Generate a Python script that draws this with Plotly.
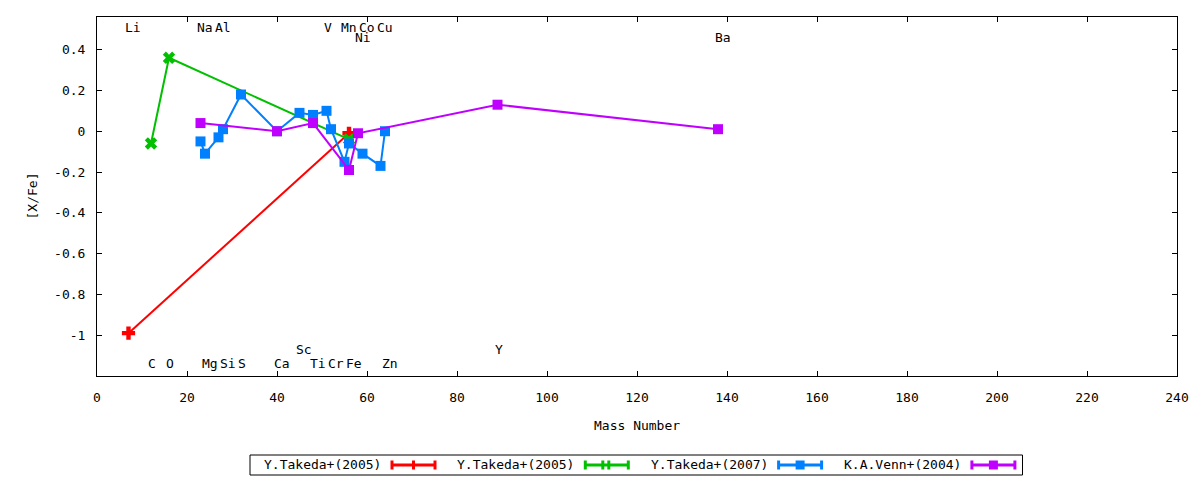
import plotly.graph_objects as go

W, H = 1200, 480
ML, MR, MT, MB = 97, 23, 17, 104
FONT = "DejaVu Sans Mono"

# ---- data: mass number of each element and its [X/Fe] ----
takeda05a_elem = ["Li", "Fe"]
takeda05a_mass = [7, 56]
takeda05a_xfe = [-0.99, -0.01]

takeda05b_elem = ["C", "O", "Fe"]
takeda05b_mass = [12, 16, 56]
takeda05b_xfe = [-0.06, 0.36, -0.04]

takeda07_elem = ["Na", "Mg", "Al", "Si", "S", "Ca", "Sc", "Ti", "V", "Cr",
                 "Mn", "Fe", "Co", "Cu", "Zn"]
takeda07_mass = [23, 24, 27, 28, 32, 40, 45, 48, 51, 52, 55, 56, 59, 63, 64]
takeda07_xfe = [-0.05, -0.11, -0.03, 0.01, 0.18, 0.00, 0.09, 0.08, 0.10, 0.01,
                -0.15, -0.06, -0.11, -0.17, 0.00]

venn04_elem = ["Na", "Ca", "Ti", "Fe", "Ni", "Y", "Ba"]
venn04_mass = [23, 40, 48, 56, 58, 89, 138]
venn04_xfe = [0.04, 0.00, 0.04, -0.19, -0.01, 0.13, 0.01]

# element name labels along top and bottom of the frame
label_elem = ["Li", "Na", "Al", "V", "Mn", "Co", "Cu", "Ni", "Ba",
              "C", "O", "Mg", "Si", "S", "Ca", "Ti", "Cr", "Fe", "Zn", "Sc", "Y"]
label_mass = [7, 23, 27, 51, 55, 59, 63, 58, 138,
              12, 16, 24, 28, 32, 40, 48, 52, 56, 64, 45, 89]
label_y = [0.51, 0.51, 0.51, 0.51, 0.51, 0.51, 0.51, 0.46, 0.46,
           -1.14, -1.14, -1.14, -1.14, -1.14, -1.14, -1.14, -1.14, -1.14, -1.14,
           -1.07, -1.07]

x_ticks = [0, 20, 40, 60, 80, 100, 120, 140, 160, 180, 200, 220, 240]
y_ticks = [-1, -0.8, -0.6, -0.4, -0.2, 0, 0.2, 0.4]
y_ticktext = ["-1", "-0.8", "-0.6", "-0.4", "-0.2", "0", "0.2", "0.4"]

series = [
    ("Y.Takeda+(2005)", takeda05a_mass, takeda05a_xfe, takeda05a_elem, "#ff0000", "cross", 11),
    ("Y.Takeda+(2005)", takeda05b_mass, takeda05b_xfe, takeda05b_elem, "#00c000", "x", 11),
    ("Y.Takeda+(2007)", takeda07_mass, takeda07_xfe, takeda07_elem, "#0080ff", "square", 10),
    ("K.A.Venn+(2004)", venn04_mass, venn04_xfe, venn04_elem, "#c000ff", "square", 10),
]


def px(x):
    return (x - ML) / (W - ML - MR)


def py(y):
    return (H - MB - y) / (H - MT - MB)


fig = go.Figure()
for name, xs, ys, els, color, sym, size in series:
    fig.add_trace(go.Scatter(
        x=xs, y=ys, text=els, mode="lines+markers", name=name,
        line=dict(color=color, width=2),
        marker=dict(symbol=sym, size=size, color=color, line=dict(width=0)),
        hovertemplate="%{text}: %{y}<extra>" + name + "</extra>",
        showlegend=False,
    ))

annotations = []
for el, m, yv in zip(label_elem, label_mass, label_y):
    annotations.append(dict(
        x=m, y=yv, text=el, showarrow=False, xanchor="center", yanchor="middle",
        xshift=1 + 3.5 * (len(el) - 1), font=dict(family=FONT, size=13, color="black")
    ))

annotations.append(dict(
    xref="paper", yref="paper", x=0, y=0.5, xshift=-65, text="[X/Fe]", textangle=-90,
    showarrow=False, xanchor="center", yanchor="middle",
    font=dict(family=FONT, size=13, color="black")
))
annotations.append(dict(
    xref="paper", yref="paper", x=0.5, y=0, yshift=-49, text="Mass Number",
    showarrow=False, xanchor="center", yanchor="middle",
    font=dict(family=FONT, size=13, color="black")
))

# hand-built gnuplot style key: text, then sample line with end bars and point
shapes = []
shapes.append(dict(type="rect", xref="paper", yref="paper",
                   x0=px(250), x1=px(1022.5), y0=py(475), y1=py(455),
                   line=dict(color="black", width=1), fillcolor="rgba(0,0,0,0)"))
key_y = 465
for i, (name, xs, ys, els, color, sym, size) in enumerate(series):
    s0 = 392 + 193.3 * i
    s1 = s0 + 43
    mid = (s0 + s1) / 2
    annotations.append(dict(
        xref="paper", yref="paper", x=px(s0 - 9), y=py(key_y - 0.5), text=name,
        showarrow=False, xanchor="right", yanchor="middle",
        font=dict(family=FONT, size=13, color="black")
    ))
    seg = [(s0, key_y, s1, key_y), (s0, key_y - 4.5, s0, key_y + 4.5),
           (s1, key_y - 4.5, s1, key_y + 4.5)]
    if sym == "cross":
        seg.append((mid, key_y - 4.5, mid, key_y + 4.5))
    elif sym == "x":
        seg.append((mid - 4, key_y - 4.5, mid - 4, key_y + 4.5))
        seg.append((mid + 2, key_y - 4.5, mid + 2, key_y + 4.5))
    for a, b, c, d in seg:
        shapes.append(dict(type="line", xref="paper", yref="paper",
                           x0=px(a), y0=py(b), x1=px(c), y1=py(d),
                           line=dict(color=color, width=3)))
    if sym == "square":
        shapes.append(dict(type="rect", xref="paper", yref="paper",
                           x0=px(mid - 4.5), x1=px(mid + 4.5),
                           y0=py(key_y + 4.5), y1=py(key_y - 4.5),
                           line=dict(width=0), fillcolor=color))

fig.update_layout(
    width=W, height=H,
    margin=dict(l=ML, r=MR, t=MT, b=MB, pad=0),
    paper_bgcolor="white", plot_bgcolor="white",
    font=dict(family=FONT, size=13, color="black"),
    annotations=annotations, shapes=shapes,
    xaxis=dict(range=[0, 240], tickvals=x_ticks, ticks="inside", ticklen=5,
               tickcolor="black", showline=True, linecolor="black", linewidth=1,
               mirror="ticks", showgrid=False, zeroline=False,
               ticklabelstandoff=9),
    yaxis=dict(range=[-1.2, 0.56], tickvals=y_ticks, ticktext=y_ticktext,
               ticks="inside", ticklen=5, tickcolor="black", showline=True,
               linecolor="black", linewidth=1, mirror="ticks", showgrid=False,
               zeroline=False, ticklabelstandoff=8),
)

# drop the page's default body margin so the figure sits at the window corner
fig.write_html("out.html", config={"displayModeBar": False},
               post_script="document.body.style.margin='0';")
